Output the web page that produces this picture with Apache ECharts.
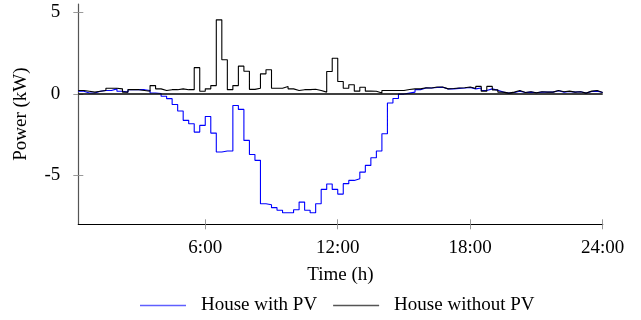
<!DOCTYPE html>
<html>
<head>
<meta charset="utf-8">
<script src="https://cdn.jsdelivr.net/npm/echarts@6/dist/echarts.min.js"></script>
<style>html,body{margin:0;padding:0;background:#fff}#c{width:641px;height:320px}</style>
</head>
<body>
<div id="c"></div>
<script>
// 15-minute intervals starting at 00:15 (hours)
const startHour = 0.25;
const stepHours = 0.25;
const xTicks = [6, 12, 18, 24];
const yTicks = [-5, 0, 5];
const seriesNames = ['House with PV', 'House without PV'];
const withPV = [0.15,0.05,0.05,0.15,0.2,0.2,0.3,0.15,0.1,0.25,0.25,0.25,0.2,0.05,0.02,-0.15,-0.3,-0.66,-1.06,-1.63,-1.84,-2.35,-1.94,-1.39,-2.41,-3.57,-3.51,-3.51,-0.72,-0.96,-2.86,-3.72,-4.08,-6.74,-6.80,-6.98,-7.14,-7.29,-7.29,-7.11,-6.64,-7.14,-7.29,-6.74,-5.86,-5.53,-5.86,-6.15,-5.51,-5.31,-5.21,-4.80,-4.39,-3.92,-3.51,-2.45,-0.57,-0.29,-0.02,0.04,0.1,0.25,0.35,0.35,0.38,0.4,0.3,0.3,0.33,0.35,0.38,0.3,0.35,0.2,0.3,0.22,0.1,0.04,0.08,0.15,0.08,0.1,0.06,0.1,0.1,0.1,0.18,0.1,0.14,0.1,0.12,0.04,0.14,0.16,0.08];
const withoutPV = [0.2,0.15,0.1,0.15,0.2,0.34,0.34,0.3,0.1,0.25,0.25,0.2,0.15,0.5,0.3,0.2,0.25,0.25,0.3,0.25,0.25,1.6,0.15,0.3,0.5,4.53,2.08,0.25,0.5,1.69,1.38,0.27,0.34,1.22,1.47,0.34,0.34,0.45,0.3,0.2,0.25,0.25,0.28,0.2,0.1,1.36,2.18,0.75,0.34,0.55,0.16,0.4,0.16,0.15,0.04,0.2,0.2,0.2,0.2,0.26,0.3,0.3,0.37,0.35,0.41,0.41,0.3,0.32,0.35,0.37,0.41,0.32,0.45,0.16,0.45,0.24,0.1,0.04,0.1,0.2,0.08,0.12,0.06,0.12,0.1,0.1,0.2,0.12,0.16,0.1,0.12,0.04,0.16,0.2,0.08];

function toPoints(arr) {
  const pts = arr.map((v, i) => [startHour + i * stepHours, v]);
  pts.push([startHour + arr.length * stepHours, arr[arr.length - 1]]);
  return pts;
}

const font = 'Liberation Serif';
const fs = 19;
const chart = echarts.init(document.getElementById('c'), null, {renderer: 'canvas'});
chart.setOption({
  animation: false,
  textStyle: {fontFamily: font, color: '#000'},
  grid: {left: 78.3, right: 38.3, top: 4, bottom: 95.7, containLabel: false},
  xAxis: [{
    type: 'value', min: 0.25, max: 24, position: 'bottom',
    name: 'Time (h)', nameLocation: 'middle', nameGap: 41,
    nameTextStyle: {fontFamily: font, fontSize: fs, color: '#000'},
    axisLine: {show: true, onZero: false, lineStyle: {color: '#000', width: 1.2}},
    axisTick: {show: true, inside: false, length: 5, customValues: xTicks, lineStyle: {color: '#999'}},
    axisLabel: {show: true, customValues: xTicks, margin: 14, fontFamily: font, fontSize: fs, color: '#000',
      formatter: v => v + ':00'},
    splitLine: {show: false}
  }, {
    type: 'value', min: 0.25, max: 24, position: 'bottom',
    axisLine: {show: false, onZero: false},
    axisTick: {show: true, inside: true, length: 5, customValues: xTicks, lineStyle: {color: '#999'}},
    axisLabel: {show: false},
    splitLine: {show: false}
  }],
  yAxis: [{
    type: 'value', min: -8, max: 5.5, position: 'left',
    name: 'Power (kW)', nameLocation: 'middle', nameGap: 48, nameRotate: 90,
    nameTextStyle: {fontFamily: font, fontSize: fs, color: '#000'},
    axisLine: {show: true, onZero: false, lineStyle: {color: '#555', width: 1.2}},
    axisTick: {show: true, inside: false, length: 5, customValues: yTicks, lineStyle: {color: '#999'}},
    axisLabel: {show: true, customValues: yTicks, margin: 18, fontFamily: font, fontSize: fs, color: '#000'},
    splitLine: {show: false}
  }, {
    type: 'value', min: -8, max: 5.5, position: 'left',
    axisLine: {show: false, onZero: false},
    axisTick: {show: true, inside: true, length: 5, customValues: yTicks, lineStyle: {color: '#999'}},
    axisLabel: {show: false},
    splitLine: {show: false}
  }],
  legend: {
    left: 135, top: 291, itemGap: 16, itemWidth: 46, itemHeight: 1.5, icon: 'rect',
    textStyle: {fontFamily: font, fontSize: fs, color: '#000', padding: [0, 0, 0, 10]},
    data: [
      {name: seriesNames[0], itemStyle: {color: '#5f5fff'}},
      {name: seriesNames[1], itemStyle: {color: '#555'}}
    ]
  },
  series: [{
    name: seriesNames[0], type: 'line', step: 'end', showSymbol: false, symbol: 'none',
    data: toPoints(withPV), color: '#0000ff',
    lineStyle: {color: '#0000ff', width: 1.1},
    markLine: {silent: true, symbol: 'none', label: {show: false},
      lineStyle: {color: '#000', width: 1.5, type: 'solid'}, data: [{yAxis: 0}]}
  }, {
    name: seriesNames[1], type: 'line', step: 'end', showSymbol: false, symbol: 'none',
    data: toPoints(withoutPV), color: '#000',
    lineStyle: {color: '#000', width: 1.1}
  }]
});
</script>
</body>
</html>
